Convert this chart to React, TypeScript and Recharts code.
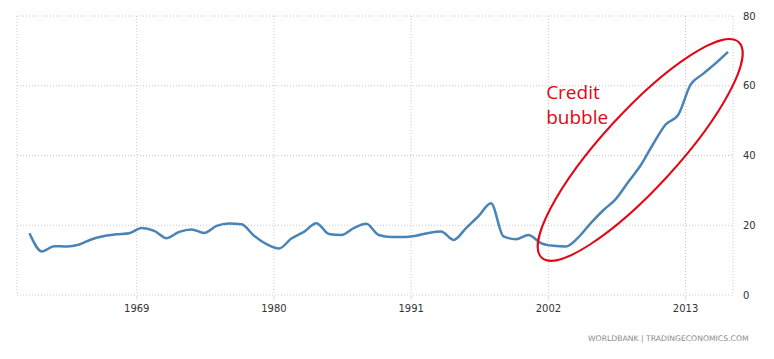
import React from 'react';
import { LineChart, Line, XAxis, YAxis, CartesianGrid, ReferenceDot } from 'recharts';

const YEARS = [
  1960, 1961, 1962, 1963, 1964, 1965, 1966, 1967, 1968, 1969,
  1970, 1971, 1972, 1973, 1974, 1975, 1976, 1977, 1978, 1979,
  1980, 1981, 1982, 1983, 1984, 1985, 1986, 1987, 1988, 1989,
  1990, 1991, 1992, 1993, 1994, 1995, 1996, 1997, 1998, 1999,
  2000, 2001, 2002, 2003, 2004, 2005, 2006, 2007, 2008, 2009,
  2010, 2011, 2012, 2013, 2014, 2015, 2016,
];

const VALUES = [
  17.7, 12.5, 14.0, 13.9, 14.5, 16.0, 16.9, 17.4, 17.7, 19.2,
  18.4, 16.3, 18.1, 18.8, 17.8, 19.8, 20.5, 20.3, 17.0, 14.6,
  13.3, 16.2, 18.1, 20.6, 17.5, 17.2, 19.2, 20.4, 17.2, 16.6,
  16.6, 17.0, 17.8, 18.2, 15.8, 19.2, 22.6, 26.3, 16.8, 16.0,
  17.2, 14.9, 14.1, 13.9, 16.5, 20.6, 24.3, 27.5, 32.4, 37.2,
  43.3, 48.9, 51.6, 60.3, 63.4, 66.4, 69.7,
];

const X_TICKS = [1969, 1980, 1991, 2002, 2013];
const Y_TICKS = [0, 20, 40, 60, 80];

const ANNOTATION_LINES = ['Credit', 'bubble'];
const SOURCE_TEXT = 'WORLDBANK | TRADINGECONOMICS.COM';

// annual observations are plotted part-way through the year
const PLOT_OFFSET = 0.4;

const data = YEARS.map((y, i) => ({ t: y + PLOT_OFFSET, value: VALUES[i] }));

// annotation anchors in data units
const BUBBLE_CENTER = { t: 2009.36, v: 41.6 };
const LABEL_ANCHOR = { t: 2001.82, v: 56.2 };

const RED = '#e30613';

const EllipseShape = (props: any) => {
  const { cx, cy } = props;
  if (cx == null || cy == null) return null;
  return (
    <ellipse
      cx={cx}
      cy={cy}
      rx={146}
      ry={38}
      transform={`rotate(-47.6 ${cx} ${cy})`}
      fill="none"
      stroke={RED}
      strokeWidth={2}
    />
  );
};

const LabelShape = (props: any) => {
  const { cx, cy } = props;
  if (cx == null || cy == null) return null;
  return (
    <text x={cx} y={cy} fill={RED} fontSize={19} fontFamily="'Open Sans', 'Noto Sans', sans-serif">
      {ANNOTATION_LINES.map((l, i) => (
        <tspan key={i} x={cx} dy={i === 0 ? 0 : 25}>
          {l}
        </tspan>
      ))}
    </text>
  );
};

export default function App() {
  return (
    <div style={{ position: 'absolute', left: 0, top: 0, width: 774, height: 359, background: '#fff' }}>
      <LineChart
        width={774}
        height={359}
        data={data}
        margin={{ top: 16, right: 6, bottom: 34, left: 17 }}
      >
        <CartesianGrid stroke="#c8c8c8" strokeDasharray="1 2" />
        <XAxis
          dataKey="t"
          type="number"
          domain={[1959.4, 2016.8]}
          allowDataOverflow
          ticks={X_TICKS}
          axisLine={false}
          tickLine={{ stroke: '#c8c8c8', strokeDasharray: '1 1' }}
          tickSize={4}
          tickMargin={6}
          height={30}
          tick={{ fill: '#333', fontSize: 10, fontFamily: "'DejaVu Sans', sans-serif" }}
        />
        <YAxis
          orientation="right"
          type="number"
          domain={[0, 80]}
          ticks={Y_TICKS}
          axisLine={false}
          tickLine={false}
          tickMargin={4}
          width={35}
          tick={{ fill: '#333', fontSize: 10, fontFamily: "'DejaVu Sans', sans-serif" }}
        />
        <Line
          type="monotone"
          dataKey="value"
          stroke="#4a83b5"
          strokeWidth={2.5}
          dot={false}
          activeDot={false}
          isAnimationActive={false}
        />
        <ReferenceDot x={BUBBLE_CENTER.t} y={BUBBLE_CENTER.v} r={1} shape={EllipseShape} ifOverflow="visible" />
        <ReferenceDot x={LABEL_ANCHOR.t} y={LABEL_ANCHOR.v} r={1} shape={LabelShape} ifOverflow="visible" />
      </LineChart>
      <div
        style={{
          position: 'absolute',
          left: 588,
          top: 334,
          fontSize: 7.7,
          lineHeight: '9px',
          color: '#8a8a8a',
          fontFamily: "'DejaVu Sans', sans-serif",
          whiteSpace: 'nowrap',
        }}
      >
        {SOURCE_TEXT}
      </div>
    </div>
  );
}
